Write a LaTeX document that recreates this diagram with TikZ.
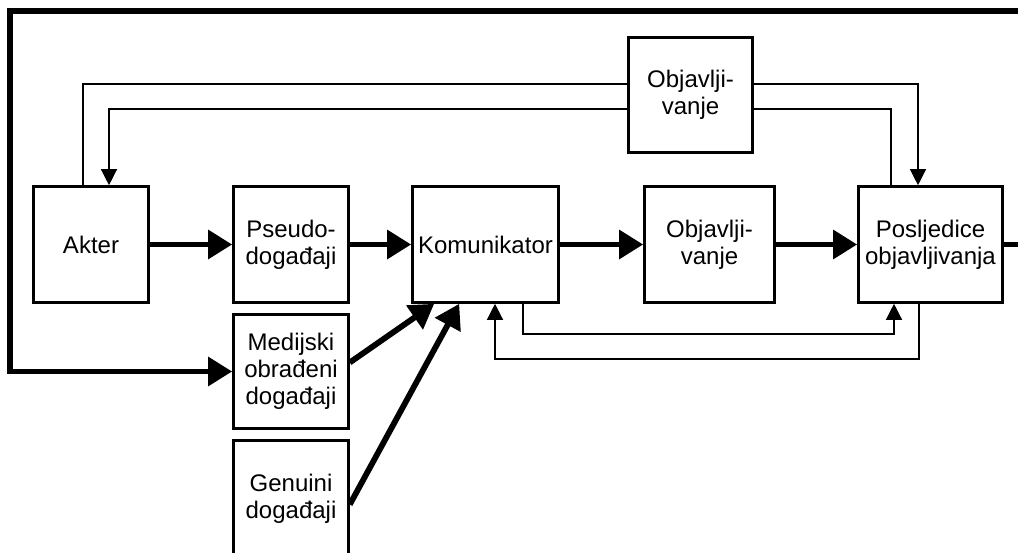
\documentclass[tikz,border=0pt]{standalone}
\usepackage{fontspec}
\setmainfont{Liberation Sans}
\usetikzlibrary{arrows.meta}
\tikzset{
  box/.style={draw=black, line width=2.6pt, fill=white, inner sep=0pt,
    align=center, font=\fontsize{24}{27}\selectfont},
  flow/.style={line width=5.8pt, -{Triangle[length=24pt,width=28pt]}},
  flowline/.style={line width=5.8pt},
  fb/.style={line width=1.3pt},
  fbarrow/.style={line width=1.3pt, -{Triangle[length=16pt,width=16pt]}}
}
\begin{document}
\begin{tikzpicture}[x=1pt,y=-1pt]
\useasboundingbox (0,0) rectangle (1018,553);
\clip (0,0) rectangle (1018,553);

% blocks
\node[box, minimum width=115pt, minimum height=116pt] (akt) at (91,244.5) {Akter};
\node[box, minimum width=115pt, minimum height=116pt] (pse) at (291,244.5) {Pseudo-\\događaji};
\node[box, minimum width=146pt, minimum height=116pt] (kom) at (485.5,244.5) {Komunikator};
\node[box, minimum width=130pt, minimum height=116pt] (obj) at (709.5,244.5) {Objavlji-\\vanje};
\node[box, minimum width=144pt, minimum height=116pt] (pos) at (930.5,244.5) {Posljedice\\objavljivanja};
\node[box, minimum width=124pt, minimum height=115pt] (top) at (690.5,95) {Objavlji-\\vanje};
\node[box, minimum width=115pt, minimum height=114pt] (med) at (291,371.5) {Medijski\\obrađeni\\događaji};
\node[box, minimum width=115pt, minimum height=116pt] (gen) at (291,498.5) {Genuini\\događaji};

% main chain
\draw[flow] (akt.east) -- (pse.west);
\draw[flow] (pse.east) -- (kom.west);
\draw[flow] (kom.east) -- (obj.west);
\draw[flow] (obj.east) -- (pos.west);
\draw[flow] ([yshift=9pt]med.east) -- ([xshift=23pt]kom.south west);
\draw[flow] ([yshift=-6pt]gen.east) -- ([xshift=48pt]kom.south west);

% outer loop back to the media events
\coordinate (fr) at (1030,11);
\coordinate (fl) at (10,11);
\draw[flowline] (pos.east) -- (pos.east -| fr) -- (fr) -- (fl) -- (fl |- med.west);
\draw[flow] ([xshift=-2.9pt]fl |- med.west) -- (med.west);

% upper feedback lines through the top block
\coordinate (a1) at (83,84);
\coordinate (a2) at (918,84);
\draw[fb] (a1 |- akt.north) -- (a1) -- (a1 -| top.west);
\draw[fbarrow] (a2 -| top.east) -- (a2) -- (a2 |- pos.north);
\coordinate (b1) at (891,109);
\coordinate (b2) at (109,109);
\draw[fb] (b1 |- pos.north) -- (b1) -- (b1 -| top.east);
\draw[fbarrow] (b2 -| top.west) -- (b2) -- (b2 |- akt.north);

% lower feedback lines
\coordinate (c1) at (523,334);
\coordinate (c2) at (894,334);
\draw[fbarrow] (c1 |- kom.south) -- (c1) -- (c2) -- (c2 |- pos.south);
\coordinate (d1) at (919,359);
\coordinate (d2) at (495,359);
\draw[fbarrow] (d1 |- pos.south) -- (d1) -- (d2) -- (d2 |- kom.south);
\end{tikzpicture}
\end{document}
